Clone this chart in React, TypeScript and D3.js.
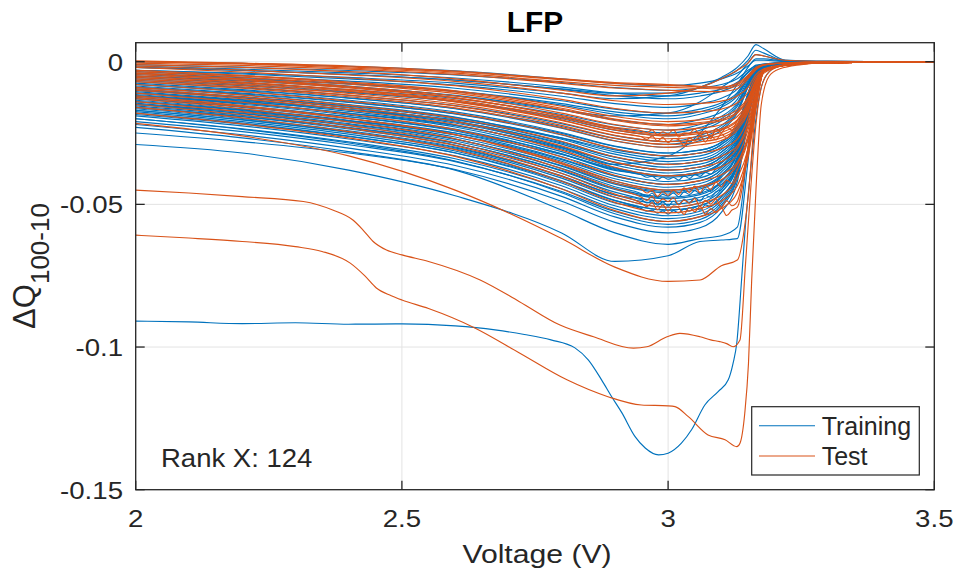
import React from "react";
import * as d3 from "d3";

// ΔQ values below are in units of 0.001 (Ah)
const X_TICKS = [2, 2.5, 3, 3.5];
const X_TICK_LABELS = ["2", "2.5", "3", "3.5"];
const Y_TICKS = [-150, -100, -50, 0];
const Y_TICK_LABELS = ["-0.15", "-0.1", "-0.05", "0"];

const V_GRID = [2.0, 2.2, 2.4, 2.6, 2.8, 2.9, 3.0, 3.06, 3.1, 3.13, 3.15, 3.165, 3.18, 3.22, 3.3, 3.5];

const TRAINING = [
  [-3, -4, -5.5, -7.5, -11, -13, -12, -9, -5.5, -2, 2, 6, 4.5, 0.6, 0.1, 0],
  [-2, -3, -4.5, -6.5, -9.5, -11, -11, -9, -6, -3, 0.5, 4, 3, 0.4, 0.1, 0],
  [-5, -6.5, -8.5, -12, -17, -19, -18, -14, -9, -5, -0.5, 2.5, 2, 0.3, 0.1, 0],
  [-10, -12.5, -16, -21, -30, -36, -33, -25, -16, -8, -2, 1, 1, 0.2, 0, 0],
  [0, -0.6, -1.6, -3.2, -6, -7.6, -8.4, -7.5, -6, -4, -1.5, 0.5, 0.5, 0.1, 0, 0],
  [-1, -1.9, -3.1, -4.6, -7.3, -9.1, -10, -9.2, -8, -6, -3, -1.5, -0.8, -0.3, -0.1, 0],
  [-2, -3.1, -4.5, -6.4, -9.7, -11.9, -13, -12, -10.4, -7.8, -3.9, -1.8, -1, -0.4, -0.1, 0],
  [-3, -4.3, -6, -8.2, -12.1, -14.7, -16, -14.7, -12.8, -9.6, -4.8, -2, -1.2, -0.4, -0.1, 0],
  [-3.5, -5, -6.8, -9.3, -13.7, -16.6, -18, -16.6, -14.4, -10.8, -5.4, -2.2, -1.2, -0.4, -0.1, 0],
  [-4, -5.6, -7.7, -10.4, -15.2, -18.4, -20, -18.4, -16, -12, -6, -2.4, -1.3, -0.5, -0.1, 0],
  [-5, -6.7, -8.9, -11.8, -16.9, -20.3, -22, -20.2, -17.6, -13.2, -6.6, -2.6, -1.4, -0.5, -0.1, 0],
  [-5.5, -7.4, -9.8, -12.9, -18.5, -22.2, -24, -22, -19.2, -14.4, -7.2, -2.8, -1.4, -0.5, -0.1, 0],
  [-6, -8, -10.6, -14, -20, -24, -26, -24, -20.8, -15.6, -7.8, -3, -1.5, -0.5, -0.1, 0],
  [-7, -9.1, -11.8, -15.4, -21.7, -25.9, -28, -25.8, -22.4, -16.8, -8.4, -3.2, -1.5, -0.5, -0.1, 0],
  [-7.5, -9.8, -12.7, -16.5, -23.3, -27.8, -30, -27.6, -24, -18, -9, -3.5, -1.5, -0.5, -0.1, 0],
  [-8, -10.4, -13.5, -17.6, -24.8, -29.6, -32, -31, -28.2, -22.4, -11.2, -3.8, -2, -0.7, -0.2, 0],
  [-8.5, -11, -14.1, -18.3, -25.7, -30.6, -33, -32, -29, -23.1, -11.6, -4, -2, -0.7, -0.2, 0],
  [-9, -11.6, -15, -19.4, -27.2, -32.4, -35, -34, -30.8, -24.5, -12.3, -4.2, -2, -0.7, -0.2, 0],
  [-9.5, -12.2, -15.6, -20.1, -28.1, -33.4, -36, -34.9, -31.7, -25.2, -12.6, -4.3, -2, -0.7, -0.2, 0],
  [-10, -12.7, -16.2, -20.8, -28.9, -34.3, -37, -35.9, -32.6, -25.9, -13, -4.4, -2, -0.7, -0.2, 0],
  [-10.5, -13.3, -16.8, -21.5, -29.8, -35.3, -38, -36.9, -33.4, -26.6, -13.3, -4.6, -2, -0.7, -0.2, 0],
  [-11, -13.8, -17.4, -22.2, -30.6, -36.2, -39, -37.8, -34.3, -27.3, -13.7, -4.7, -2, -0.7, -0.2, 0],
  [-11.5, -14.4, -18.1, -22.9, -31.5, -37.2, -40, -38.8, -35.2, -28, -14, -4.8, -2, -0.7, -0.2, 0],
  [-12, -14.9, -18.7, -23.6, -32.3, -38.1, -41, -39.8, -36.1, -28.7, -14.4, -4.9, -2, -0.7, -0.2, 0],
  [-12.5, -15.5, -19.3, -24.3, -33.2, -39.1, -42, -40.7, -37, -29.4, -14.7, -5, -2, -0.7, -0.2, 0],
  [-13, -16, -19.9, -25, -34, -40, -43, -41.7, -37.8, -30.1, -15, -5.2, -2, -0.7, -0.2, 0],
  [-13.5, -16.6, -20.5, -25.7, -34.9, -41, -44, -42.7, -38.7, -30.8, -15.4, -5.3, -2, -0.7, -0.2, 0],
  [-14, -17.1, -21.1, -26.4, -35.7, -41.9, -45, -43.7, -39.6, -31.5, -15.8, -5.4, -2, -0.7, -0.2, 0],
  [-14.5, -17.7, -21.7, -27.1, -36.6, -42.9, -46, -44.6, -40.5, -32.2, -16.1, -5.5, -2, -0.7, -0.2, 0],
  [-15, -18.2, -22.4, -27.8, -37.4, -43.8, -47, -45.6, -41.4, -32.9, -16.5, -5.6, -2, -0.7, -0.2, 0],
  [-15.5, -18.8, -23, -28.5, -38.3, -44.8, -48, -46.6, -42.2, -33.6, -16.8, -5.8, -2, -0.7, -0.2, 0],
  [-16, -19.3, -23.6, -29.2, -39.1, -45.7, -49, -47.5, -43.1, -34.3, -17.2, -5.9, -2, -0.7, -0.2, 0],
  [-16.5, -19.9, -24.2, -29.9, -40, -46.7, -50, -48.5, -44, -35, -17.5, -6, -2, -0.7, -0.2, 0],
  [-17, -20.4, -24.8, -30.6, -40.8, -47.6, -51, -49.5, -44.9, -35.7, -17.9, -6.1, -2, -0.7, -0.2, 0],
  [-17.5, -21, -25.4, -31.3, -41.7, -48.6, -52, -50.4, -45.8, -36.4, -18.2, -6.2, -2, -0.7, -0.2, 0],
  [-18, -21.5, -26.1, -32, -42.5, -49.5, -53, -51.4, -46.6, -37.1, -18.6, -6.4, -2, -0.7, -0.2, 0],
  [-19, -22.5, -27.1, -33, -43.5, -50.5, -54, -52.4, -47.5, -37.8, -18.9, -6.5, -2, -0.7, -0.2, 0],
  [-20, -23.5, -28.1, -34, -44.5, -51.5, -55, -53.4, -48.4, -38.5, -19.3, -6.6, -2, -0.7, -0.2, 0],
  [-21, -24.5, -29.1, -35, -45.5, -52.5, -56, -54.3, -49.3, -39.2, -19.6, -6.7, -2, -0.7, -0.2, 0],
  [-22, -25.6, -30.3, -36.4, -47.2, -54.4, -58, -56.3, -51, -40.6, -20.3, -7, -2, -0.7, -0.2, 0],
  [-23, -26.7, -31.5, -37.8, -48.9, -56.3, -60, -58.2, -52.8, -42, -21, -7.2, -2, -0.7, -0.2, 0],
  [-25, -28, -32, -38, -52, -60, -64, -62, -61, -58, -30, -8, -2, -0.7, -0.2, 0],
  [-29, -32, -38, -47, -60, -70, -68, -63, -62.5, -62, -35, -9, -2, -0.7, -0.2, 0],
  [-1.5, -2.6, -3.9, -5.7, -8.9, -11, -12, -11, -9.6, -7.2, -3.6, -1.2, -0.8, -0.3, -0.1, 0],
  [-4.5, -6, -7.8, -10.3, -14.7, -17.6, -19, -17.5, -15.2, -11.4, -5.7, -1.9, -1.3, -0.5, -0.1, 0],
  [-6.5, -8.4, -10.8, -13.9, -19.5, -23.2, -25, -23, -20, -15, -7.5, -2.5, -1.5, -0.5, -0.1, 0],
  [-8, -10.1, -12.8, -16.4, -22.7, -26.9, -29, -26.7, -23.2, -17.4, -8.7, -2.9, -1.5, -0.5, -0.1, 0],
  [-9, -11.3, -14.3, -18.2, -25.1, -29.7, -32, -31, -28.2, -22.4, -11.2, -3.8, -2, -0.7, -0.2, 0],
  [-10, -12.4, -15.5, -19.6, -26.8, -31.6, -34, -33, -29.9, -23.8, -11.9, -4.1, -2, -0.7, -0.2, 0],
  [-11, -13.5, -16.8, -21, -28.5, -33.5, -36, -34.9, -31.7, -25.2, -12.6, -4.3, -2, -0.7, -0.2, 0],
  [-12, -14.6, -18, -22.4, -30.2, -35.4, -38, -36.9, -33.4, -26.6, -13.3, -4.6, -2, -0.7, -0.2, 0],
  [-13, -15.8, -19.3, -24, -32.3, -37.8, -40.5, -39.3, -35.6, -28.4, -14.2, -4.9, -2, -0.7, -0.2, 0],
  [-14, -16.9, -20.7, -25.6, -34.3, -40.1, -43, -41.7, -37.8, -30.1, -15, -5.2, -2, -0.7, -0.2, 0],
  [-15, -18.1, -22, -27.2, -36.4, -42.5, -45.5, -44.1, -40, -31.9, -15.9, -5.5, -2, -0.7, -0.2, 0],
  [-16, -19.2, -23.2, -28.6, -38.1, -44.4, -47.5, -46.1, -41.8, -33.3, -16.6, -5.7, -2, -0.7, -0.2, 0],
  [-17, -20.3, -24.6, -30.2, -40.1, -46.7, -50, -48.5, -44, -35, -17.5, -6, -2, -0.7, -0.2, 0],
  [-18.5, -21.9, -26.2, -31.9, -42, -48.7, -52, -50.4, -45.8, -36.4, -18.2, -6.2, -2, -0.7, -0.2, 0],
  [-20, -23.7, -28.5, -34.8, -45.9, -53.3, -57, -55.3, -50.2, -39.9, -20, -6.8, -2, -0.7, -0.2, 0],
  [-12, -14.1, -16.8, -20.4, -26.7, -30.9, -33, -32, -29, -23.1, -11.6, -4, -2, -0.7, -0.2, 0],
  [-15, -17.5, -20.8, -25, -32.5, -37.5, -40, -38.8, -35.2, -28, -14, -4.8, -2, -0.7, -0.2, 0],
];

const TEST = [
  [0.3, -0.5, -1.5, -3.3, -6, -7.3, -8, -8.6, -9, -8, -5, -2, -1, -0.4, -0.1, 0],
  [0, -0.8, -2.2, -4, -7, -8.3, -9, -9.3, -9.5, -8.5, -5.5, -2.5, -1.2, -0.5, -0.1, 0],
  [-1, -2, -3.5, -6, -10, -12, -11, -9, -6, -3, -0.5, 2.5, 2, 0.5, 0.1, 0],
  [-2, -3.6, -5.7, -8.4, -13.2, -16.4, -18, -17.5, -16.6, -14.4, -10.8, -5.4, -3, -1.2, -0.3, 0],
  [-3, -4.8, -7.1, -10.2, -15.6, -19.2, -21, -20.4, -19.3, -16.8, -12.6, -6.3, -3, -1.2, -0.3, 0],
  [-3.5, -5.4, -7.9, -11.1, -16.8, -20.6, -22.5, -21.8, -20.7, -18, -13.5, -6.8, -3, -1.2, -0.3, 0],
  [-4, -6, -8.6, -12, -18, -22, -24, -23.3, -22.1, -19.2, -14.4, -7.2, -3, -1.2, -0.3, 0],
  [-4.5, -6.6, -9.2, -12.7, -18.9, -23, -25, -24.3, -23, -20, -15, -7.5, -3, -1.2, -0.3, 0],
  [-5, -7.1, -9.8, -13.4, -19.7, -23.9, -26, -25.2, -23.9, -20.8, -15.6, -7.8, -3, -1.2, -0.3, 0],
  [-5.5, -7.7, -10.4, -14.1, -20.6, -24.9, -27, -26.2, -24.8, -21.6, -16.2, -8.1, -3, -1.2, -0.3, 0],
  [-6, -8.2, -11.1, -14.8, -21.4, -25.8, -28, -27.2, -25.8, -22.4, -16.8, -8.4, -3, -1.2, -0.3, 0],
  [-7, -9.3, -12.3, -16.2, -23.1, -27.7, -30, -29.1, -27.6, -24, -18, -9, -3, -1.2, -0.3, 0],
  [-8, -10.5, -13.8, -18, -25.5, -30.5, -33, -32, -30.4, -27.1, -19.8, -9.9, -3, -1.2, -0.3, 0],
  [-9, -11.7, -15.2, -19.8, -27.9, -33.3, -36, -34.9, -33.1, -29.5, -21.6, -10.8, -3, -1.2, -0.3, 0],
  [-10, -13, -16.9, -22, -31, -37, -40, -38.8, -36.8, -32.8, -24, -12, -3, -1.2, -0.3, 0],
  [-11, -14.2, -18.4, -23.8, -33.4, -39.8, -43, -41.7, -39.6, -35.3, -25.8, -12.9, -3, -1.2, -0.3, 0],
  [-12, -15.4, -19.8, -25.6, -35.8, -42.6, -46, -44.6, -42.3, -37.7, -27.6, -13.8, -3, -1.2, -0.3, 0],
  [-13, -16.5, -21.1, -27, -37.5, -44.5, -48, -48.5, -49, -49, -30, -14, -3.5, -1.3, -0.3, 0],
  [-14, -17.6, -22.3, -28.4, -39.2, -46.4, -50, -51, -51.5, -51, -32, -15, -3.5, -1.3, -0.3, 0],
  [-16, -19.7, -24.5, -30.8, -41.9, -49.3, -53, -51.4, -48.8, -43.5, -31.8, -15.9, -3, -1.2, -0.3, 0],
  [-18, -21.8, -26.7, -33.2, -44.6, -52.2, -56, -54.3, -51.5, -45.9, -33.6, -16.8, -3, -1.2, -0.3, 0],
  [-21.6, -26, -33, -45, -62, -72, -77, -76.5, -71.5, -69.5, -48, -15, -4, -1.3, -0.3, 0],
  [-1.5, -2.9, -4.6, -6.9, -11, -13.7, -15, -14.6, -13.8, -12, -9, -4.5, -2.5, -1, -0.3, 0],
  [-3, -4.9, -7.4, -10.6, -16.3, -20.1, -22, -21.3, -20.2, -17.6, -13.2, -6.6, -3, -1.2, -0.3, 0],
  [-4, -6.2, -8.9, -12.6, -19.1, -23.4, -25.5, -24.7, -23.5, -20.4, -15.3, -7.7, -3, -1.2, -0.3, 0],
  [-5, -7.2, -10.1, -13.8, -20.4, -24.8, -27, -26.2, -24.8, -21.6, -16.2, -8.1, -3, -1.2, -0.3, 0],
  [-6.5, -8.8, -11.7, -15.5, -22.3, -26.8, -29, -28.1, -26.7, -23.2, -17.4, -8.7, -3, -1.2, -0.3, 0],
  [-9.5, -12.4, -16.1, -20.9, -29.5, -35.2, -38, -36.9, -35, -30.4, -22.8, -11.4, -3, -1.2, -0.3, 0],
  [-12.5, -15.8, -20, -25.5, -35.3, -41.8, -45, -43.7, -41.4, -36, -27, -13.5, -3, -1.2, -0.3, 0],
  [-15, -18.6, -23.3, -29.4, -40.2, -47.4, -51, -49.5, -46.9, -40.8, -30.6, -15.3, -3, -1.2, -0.3, 0],
  [0, -0.6, -1.8, -3.6, -6.3, -7.6, -8.3, -8.8, -8.9, -7.5, -4.8, -2, -1, -0.4, -0.1, 0],
  [-0.5, -1.3, -2.6, -4.5, -7.6, -9.2, -10, -10.4, -10.5, -9.5, -6, -2.8, -1.2, -0.5, -0.1, 0],
];

// finely sampled (noisy) stretch for some cells
const NOISE_V = [2.95, 2.96, 2.97, 2.98, 2.99, 3.0, 3.01, 3.02, 3.03, 3.04, 3.05, 3.06, 3.07, 3.08, 3.09, 3.1, 3.11, 3.12, 3.13];
const TRAINING_NOISY_IDX = [23, 29, 32, 35];
const TRAINING_NOISE = [
  [-39.6, -40.5, -40.1, -41.3, -40.4, -41.2, -40.6, -41.5, -40, -40.9, -39.6, -40.2, -38.8, -39.4, -37.6, -36.5, -34.8, -32.4, -28.7],
  [-46.3, -47.2, -46.1, -47.6, -46.5, -47.1, -46, -47.4, -45.6, -46.5, -45.2, -46.1, -44.6, -45.5, -43.6, -43.1, -41.8, -40.2, -34],
  [-48.4, -49.5, -48.8, -50.3, -49.1, -50.6, -48.9, -50, -48.2, -49.4, -47.6, -48.9, -46.8, -47.5, -45.6, -44.8, -42.3, -40.1, -35],
  [-51.5, -52.4, -52, -53.1, -52.3, -53.4, -52.2, -53, -51.6, -52.4, -51.1, -52, -50.2, -50.8, -49, -47.2, -45.5, -43.2, -38],
];
const TEST_NOISY_IDX = [7, 9, 16, 17, 18];
const TEST_NOISE = [
  [-24.2, -24.8, -23.9, -25.6, -24.6, -25.3, -23.8, -26.4, -24.9, -25.1, -23.6, -25.9, -24.2, -27, -23.5, -24.8, -22.9, -24, -20.5],
  [-26.3, -27.2, -26, -27.8, -26.5, -28.4, -26.9, -27.3, -29.5, -26.6, -27.8, -26, -28.1, -25.9, -27.4, -25.2, -26.9, -24.5, -22],
  [-44.8, -46, -45.1, -47.2, -45.5, -46.8, -44.9, -46.5, -44.2, -45.8, -43.6, -45.9, -43.4, -44.8, -42.2, -43.9, -41.5, -42.7, -38],
  [-47.5, -48.6, -47.2, -49.5, -48.1, -49, -47.6, -50.2, -48.4, -49.6, -47.9, -50.8, -48.6, -49.9, -48.2, -51, -48.7, -50.5, -49],
  [-49.6, -50.8, -49.4, -51.9, -50.2, -52.4, -50.5, -51.2, -53.5, -51, -52.6, -50.7, -53.4, -51.5, -52.8, -51.2, -53.9, -52, -51],
];

// outlier cells, own voltage sampling
const TRAIN_OUT_V = [2.0, 2.1, 2.2, 2.3, 2.4, 2.5, 2.6, 2.675, 2.73, 2.78, 2.825, 2.85, 2.875, 2.894, 2.913, 2.938, 2.957, 2.982, 3.0, 3.025, 3.044, 3.069, 3.094, 3.113, 3.122, 3.129, 3.138, 3.145, 3.155, 3.165, 3.175, 3.19, 3.21, 3.25, 3.3, 3.5];
const TRAIN_OUT_Q = [-90.9, -91.2, -91.8, -91.5, -92, -91.9, -92.6, -94, -95.6, -97.5, -100.3, -104.5, -111.5, -117.4, -123, -131.4, -135.4, -137.8, -137.2, -133.7, -129, -120.3, -115.6, -111.5, -105.7, -98.6, -76.5, -58, -38, -20, -9, -3.5, -1.5, -0.5, -0.1, 0];

const TEST_OUT1_V = [2.0, 2.1, 2.2, 2.315, 2.37, 2.408, 2.427, 2.446, 2.471, 2.5, 2.55, 2.647, 2.72, 2.797, 2.86, 2.935, 2.96, 2.998, 3.022, 3.06, 3.08, 3.097, 3.11, 3.122, 3.135, 3.145, 3.155, 3.165, 3.175, 3.19, 3.21, 3.25, 3.3, 3.5];
const TEST_OUT1_Q = [-45, -46, -47.3, -49, -52, -55.5, -59, -63, -66, -67.7, -70, -76.5, -84, -92.3, -96.4, -100.4, -99.9, -96.4, -95.2, -96.4, -97.5, -98.1, -98.8, -99.9, -97.5, -72, -45, -22, -9, -3.5, -1.6, -0.6, -0.2, 0];

const TEST_OUT2_V = [2.0, 2.1, 2.2, 2.3, 2.35, 2.403, 2.43, 2.452, 2.48, 2.5, 2.55, 2.637, 2.72, 2.81, 2.887, 2.95, 3.0, 3.013, 3.038, 3.075, 3.107, 3.129, 3.135, 3.144, 3.151, 3.157, 3.165, 3.175, 3.19, 3.21, 3.25, 3.3, 3.5];
const TEST_OUT2_Q = [-60.8, -61.8, -63, -64.8, -66.5, -70.6, -75, -79.3, -82, -83.5, -86.5, -93.3, -102, -111.5, -117.4, -120.3, -120.6, -120.9, -124.4, -130.8, -132.5, -134.9, -133.7, -123.2, -105.7, -76.5, -45, -15, -5, -2.5, -1, -0.3, 0];

const LEGEND_LABELS = ["Training", "Test"];
const BLUE = "#0072BD";
const ORANGE = "#D95319";
const FONT = "'Liberation Sans', Arial, Helvetica, sans-serif";
const TXT = "#262626";

type P = [number, number];

function gridPoints(vals: number[], noise?: number[]): P[] {
  const pts: P[] = V_GRID.map((v, i) => [v, vals[i]] as P);
  if (!noise) return pts;
  const lo = NOISE_V[0];
  const hi = NOISE_V[NOISE_V.length - 1];
  const merged: P[] = [
    ...pts.filter((p) => p[0] < lo || p[0] > hi),
    ...NOISE_V.map((v, i) => [v, noise[i]] as P),
  ];
  return merged.sort((a, b) => a[0] - b[0]);
}

function SText(props: {
  x: number;
  y: number;
  sx?: number;
  size: number;
  anchor?: string;
  weight?: string;
  fill?: string;
  children: React.ReactNode;
}) {
  const { x, y, sx = 1, size, anchor = "start", weight = "normal", fill = TXT, children } = props;
  return (
    <text
      transform={`translate(${x},${y}) scale(${sx},1)`}
      fontSize={size}
      textAnchor={anchor}
      fontWeight={weight}
      fill={fill}
    >
      {children}
    </text>
  );
}

export default function App() {
  const left = 135.7, right = 934.3, top = 42.7, bottom = 489.7;
  const x = d3.scaleLinear().domain([2, 3.5]).range([left, right]);
  const y = d3.scaleLinear().domain([-150, 6.66]).range([bottom, top]);
  const line = d3
    .line<P>()
    .x((d) => x(d[0]))
    .y((d) => y(d[1]))
    .curve(d3.curveMonotoneX);

  const trainPaths = TRAINING.map((vals, i) => {
    const k = TRAINING_NOISY_IDX.indexOf(i);
    return line(gridPoints(vals, k >= 0 ? TRAINING_NOISE[k] : undefined)) || "";
  });
  trainPaths.push(line(TRAIN_OUT_V.map((v, i) => [v, TRAIN_OUT_Q[i]] as P)) || "");

  const testPaths = TEST.map((vals, i) => {
    const k = TEST_NOISY_IDX.indexOf(i);
    return line(gridPoints(vals, k >= 0 ? TEST_NOISE[k] : undefined)) || "";
  });
  testPaths.push(line(TEST_OUT1_V.map((v, i) => [v, TEST_OUT1_Q[i]] as P)) || "");
  testPaths.push(line(TEST_OUT2_V.map((v, i) => [v, TEST_OUT2_Q[i]] as P)) || "");

  const tickLen = 9;
  const axisColor = "#262626";
  const gridColor = "#e3e3e3";

  return (
    <svg
      width={955}
      height={572}
      style={{ position: "absolute", left: 0, top: 0, background: "#fff" }}
      fontFamily={FONT}
    >
      <rect x={0} y={0} width={955} height={572} fill="#fff" />
      <defs>
        <clipPath id="plotClip">
          <rect x={left} y={top} width={right - left} height={bottom - top} />
        </clipPath>
      </defs>
      {/* grid */}
      {X_TICKS.map((t, i) => (
        <line key={"gx" + i} x1={x(t)} x2={x(t)} y1={top} y2={bottom} stroke={gridColor} strokeWidth={1} />
      ))}
      {Y_TICKS.map((t, i) => (
        <line key={"gy" + i} x1={left} x2={right} y1={y(t)} y2={y(t)} stroke={gridColor} strokeWidth={1} />
      ))}
      {/* curves */}
      <g clipPath="url(#plotClip)" fill="none" strokeWidth={1.15} strokeLinejoin="round">
        {trainPaths.map((d, i) => (
          <path key={"tr" + i} d={d} stroke={BLUE} />
        ))}
        {testPaths.map((d, i) => (
          <path key={"te" + i} d={d} stroke={ORANGE} />
        ))}
      </g>
      {/* axes box */}
      <rect x={left} y={top} width={right - left} height={bottom - top} fill="none" stroke={axisColor} strokeWidth={1.3} />
      {X_TICKS.map((t, i) => (
        <g key={"tx" + i}>
          <line x1={x(t)} x2={x(t)} y1={bottom} y2={bottom - tickLen} stroke={axisColor} strokeWidth={1.3} />
          <line x1={x(t)} x2={x(t)} y1={top} y2={top + tickLen} stroke={axisColor} strokeWidth={1.3} />
          <SText x={x(t)} y={527} sx={1.15} size={24} anchor="middle">
            {X_TICK_LABELS[i]}
          </SText>
        </g>
      ))}
      {Y_TICKS.map((t, i) => (
        <g key={"ty" + i}>
          <line x1={left} x2={left + tickLen} y1={y(t)} y2={y(t)} stroke={axisColor} strokeWidth={1.3} />
          <line x1={right} x2={right - tickLen} y1={y(t)} y2={y(t)} stroke={axisColor} strokeWidth={1.3} />
          <SText x={123} y={y(t) + 9} sx={1.15} size={24} anchor="end">
            {Y_TICK_LABELS[i]}
          </SText>
        </g>
      ))}
      {/* title and labels */}
      <SText x={(left + right) / 2} y={32} sx={1.03} size={29} anchor="middle" weight="bold" fill="#000">
        LFP
      </SText>
      <SText x={(left + right) / 2 + 2} y={563} sx={1.16} size={26} anchor="middle">
        Voltage (V)
      </SText>
      <text transform="translate(35,266) rotate(-90)" textAnchor="middle" fontSize={31} fill={TXT}>
        ΔQ
        <tspan fontSize={26} dy={14}>
          100-10
        </tspan>
      </text>
      <SText x={161} y={467} sx={1.1} size={25}>
        Rank X: 124
      </SText>
      {/* legend */}
      <g>
        <rect x={751.7} y={406.7} width={167.6} height={68.3} fill="#fff" stroke={axisColor} strokeWidth={1.2} />
        {LEGEND_LABELS.map((lab, i) => (
          <g key={"lg" + i}>
            <line
              x1={759}
              x2={815}
              y1={425.7 + i * 30.3}
              y2={425.7 + i * 30.3}
              stroke={i === 0 ? BLUE : ORANGE}
              strokeWidth={1.1}
            />
            <text x={821.7} y={434.5 + i * 30.3} fontSize={25} fill={TXT}>
              {lab}
            </text>
          </g>
        ))}
      </g>
    </svg>
  );
}
